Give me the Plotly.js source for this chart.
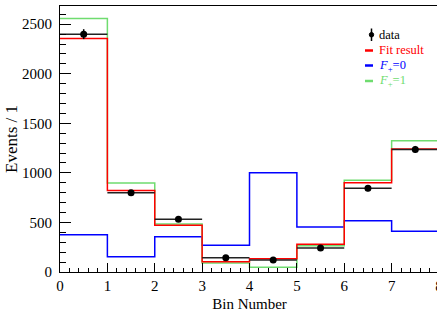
<!DOCTYPE html>
<html>
<head>
<meta charset="utf-8">
<script src="https://cdn.plot.ly/plotly-3.0.1.min.js"></script>
<style>
html,body{margin:0;padding:0;overflow:hidden;background:#fff;}
#chart{width:445px;height:317px;}
</style>
</head>
<body>
<div id="chart"></div>
<script>
// Bin edges and contents
var binEdges = [0, 1, 2, 3, 4, 5, 6, 7, 8];
var binCenters = [0.5, 1.5, 2.5, 3.5, 4.5, 5.5, 6.5, 7.5];
var dataValues = [2400, 800, 531, 144, 121, 242, 844, 1237];
var dataErrors = [50, 28, 23, 12, 11, 16, 29, 35];
var fitResult = [2356, 823, 471, 104, 134, 279, 900, 1240];
var fPlus0 = [376, 154, 356, 269, 1001, 454, 517, 410];
var fPlus1 = [2557, 897, 484, 91, 47, 265, 925, 1324];
var binHalfWidth = [0.5, 0.5, 0.5, 0.5, 0.5, 0.5, 0.5, 0.5];

function stepY(v){ return v.concat([v[v.length-1]]); }

var FONT = "Liberation Serif, Times New Roman, serif";
var RED = "#ff0000", BLUE = "#0000ff", GREEN = "#6fdc6f";

function hist(vals, color){
  return {type:"scatter", mode:"lines", x:binEdges, y:stepY(vals),
    line:{shape:"hv", color:color, width:1.5}, hoverinfo:"skip", showlegend:false};
}

var traces = [
  hist(fPlus0, BLUE),
  hist(fPlus1, GREEN),
  hist(fitResult, RED),
  {type:"scatter", mode:"markers", x:binCenters, y:dataValues,
   marker:{color:"#000", size:7},
   error_y:{type:"data", array:dataErrors, visible:true, color:"#000", thickness:1.5, width:0},
   error_x:{type:"data", array:binHalfWidth, visible:true, color:"#222", thickness:1.5, width:0},
   showlegend:false}
];

// legend geometry in paper coords (plot area: x 60..439 px, y 6..272 px)
function px(x){ return (x-60)/379; }
function py(y){ return (272-y)/266; }

var legendItems = [
  {text:"data", color:"#000", y:35},
  {text:"Fit result", color:RED, y:50.5},
  {text:"<i>F</i><sub>+</sub>=0", color:BLUE, y:65.5},
  {text:"<i>F</i><sub>+</sub>=1", color:GREEN, y:81}
];
var annotations = legendItems.map(function(it){
  return {xref:"paper", yref:"paper", x:px(377), y:py(it.y), xanchor:"left", yanchor:"middle",
    text:it.text, showarrow:false, font:{family:FONT, size:12.5, color:it.color}};
});
var shapes = [
  {type:"line", xref:"paper", yref:"paper", x0:px(371.5), x1:px(371.5), y0:py(28.5), y1:py(41), line:{color:"#000", width:1.5}},
  {type:"circle", xref:"paper", yref:"paper", x0:px(369.3), x1:px(373.7), y0:py(32.5), y1:py(37), fillcolor:"#000", line:{color:"#000", width:1}},
  {type:"line", xref:"paper", yref:"paper", x0:px(365), x1:px(373), y0:py(50.5), y1:py(50.5), line:{color:RED, width:2.5}},
  {type:"line", xref:"paper", yref:"paper", x0:px(365), x1:px(373), y0:py(65.5), y1:py(65.5), line:{color:BLUE, width:2.5}},
  {type:"line", xref:"paper", yref:"paper", x0:px(365), x1:px(373), y0:py(81), y1:py(81), line:{color:GREEN, width:2.5}}
];

var layout = {
  width:445, height:317,
  margin:{l:60, r:6, t:6, b:45},
  paper_bgcolor:"#fff", plot_bgcolor:"#fff",
  showlegend:false,
  font:{family:FONT, size:15, color:"#000"},
  xaxis:{range:[0,8], dtick:1, tick0:0, ticks:"inside", ticklen:9, tickwidth:1, tickcolor:"#000",
    showgrid:false, zeroline:false, showline:true, linecolor:"#000", linewidth:1, mirror:true,
    tickfont:{family:FONT, size:15}, ticklabelstandoff:0,
    minor:{dtick:0.2, ticks:"inside", ticklen:4.5, tickcolor:"#000", showgrid:false},
    title:{text:"Bin Number", font:{family:FONT, size:15}, standoff:5}},
  yaxis:{range:[0,2684], dtick:500, tick0:0, ticks:"inside", ticklen:11, tickwidth:1, tickcolor:"#000",
    showgrid:false, zeroline:false, showline:true, linecolor:"#000", linewidth:1, mirror:true,
    tickfont:{family:FONT, size:15}, ticklabelstandoff:4,
    minor:{dtick:100, ticks:"inside", ticklen:6, tickcolor:"#000", showgrid:false},
    title:{text:"Events / 1", font:{family:FONT, size:17}, standoff:0}},
  annotations:annotations,
  shapes:shapes
};

Plotly.newPlot("chart", traces, layout, {displayModeBar:false, staticPlot:true});
</script>
</body>
</html>
